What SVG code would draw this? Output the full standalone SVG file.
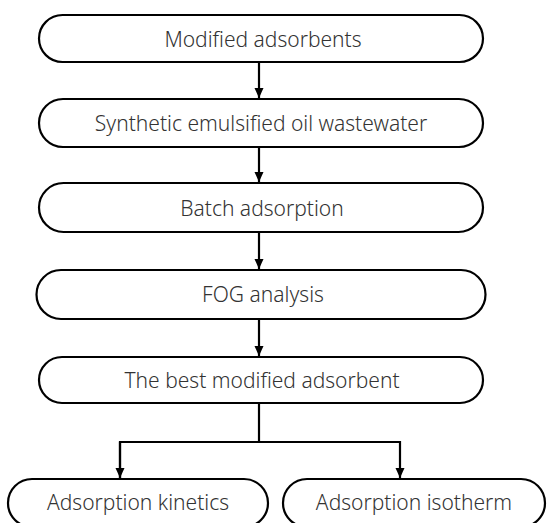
<svg xmlns="http://www.w3.org/2000/svg" width="547" height="523" viewBox="0 0 547 523">
<style>
.box{fill:#fff;stroke:#000;stroke-width:2.2}
.lbl{font-family:"Noto Sans",sans-serif;font-size:21px;font-weight:300;fill:#333;text-anchor:middle;dominant-baseline:central}
.con{fill:none;stroke:#000;stroke-width:2.2}
</style>
<defs>
<marker id="ah" markerWidth="12" markerHeight="12" refX="10" refY="5" orient="auto" markerUnits="userSpaceOnUse">
<path d="M0,0.5 L10,5 L0,9.5 Z" fill="#000"/>
</marker>
</defs>
<rect width="547" height="523" fill="#fff"/>
<g id="connectors">
<line class="con" x1="259" y1="62" x2="259" y2="98" marker-end="url(#ah)"/>
<line class="con" x1="259" y1="147" x2="259" y2="182" marker-end="url(#ah)"/>
<line class="con" x1="259" y1="232" x2="259" y2="269" marker-end="url(#ah)"/>
<line class="con" x1="259" y1="319" x2="259" y2="356" marker-end="url(#ah)"/>
<polyline class="con" points="259,403 259,442"/>
<polyline class="con" points="120,478 120,442 400,442 400,478" marker-end="url(#ah)"/>
<line class="con" x1="120" y1="442" x2="120" y2="478" marker-end="url(#ah)"/>
</g>
<g id="n1"><rect class="box" x="39" y="15" width="444" height="47" rx="23.5"/><text class="lbl" x="263" y="39">Modified adsorbents</text></g>
<g id="n2"><rect class="box" x="39" y="99" width="444" height="48" rx="24"/><text class="lbl" x="261" y="123">Synthetic emulsified oil wastewater</text></g>
<g id="n3"><rect class="box" x="39" y="183" width="444" height="49" rx="24.5"/><text class="lbl" x="262" y="208">Batch adsorption</text></g>
<g id="n4"><rect class="box" x="36.5" y="270" width="449" height="49" rx="24.5"/><text class="lbl" x="263" y="294">FOG analysis</text></g>
<g id="n5"><rect class="box" x="39" y="357" width="444" height="46" rx="23"/><text class="lbl" x="262" y="380">The best modified adsorbent</text></g>
<g id="n6"><rect class="box" x="8" y="479" width="260" height="48" rx="24"/><text class="lbl" x="138" y="502">Adsorption kinetics</text></g>
<g id="n7"><rect class="box" x="283" y="479" width="262" height="48" rx="24"/><text class="lbl" x="414" y="502">Adsorption isotherm</text></g>
</svg>
